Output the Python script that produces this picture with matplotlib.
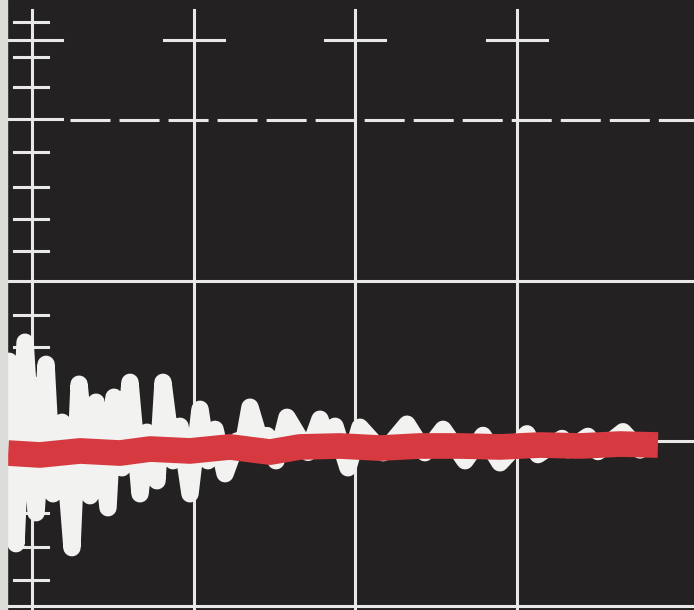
import matplotlib
matplotlib.use("Agg")
import matplotlib.pyplot as plt

# scope trace, units are screen divisions (x: time div, y: amplitude div)
wave_t = [-0.142, -0.099, -0.043, 0.025, 0.087, 0.130, 0.186, 0.247, 0.291, 0.359,
          0.396, 0.470, 0.507, 0.557, 0.606, 0.668, 0.711, 0.773, 0.810, 0.872,
          0.915, 0.977, 1.039, 1.088, 1.132, 1.194, 1.268, 1.305, 1.348, 1.422,
          1.453, 1.509, 1.577, 1.707, 1.781, 1.824, 1.874, 1.954, 2.028, 2.171,
          2.319, 2.430, 2.542, 2.678, 2.789, 2.894, 3.061, 3.129, 3.278, 3.315,
          3.438, 3.500, 3.655, 3.760]
wave_v = [0.497, -0.640, 0.616, -0.447, 0.478, -0.329, 0.117, -0.665, 0.354, -0.341,
          0.242, -0.416, 0.273, -0.167, 0.366, -0.329, 0.055, -0.248, 0.366, -0.123,
          0.092, -0.329, 0.198, -0.123, 0.073, -0.204, 0.000, -0.031, 0.211, -0.040,
          0.034, -0.123, 0.148, -0.071, 0.136, 0.010, 0.092, -0.167, 0.086, -0.073,
          0.105, -0.073, 0.073, -0.123, 0.035, -0.136, 0.045, -0.085, 0.016, -0.054,
          0.029, -0.066, 0.058, -0.056]

# filtered (red) trace
red_t = [-0.148, 0.049, 0.297, 0.544, 0.730, 0.977, 1.224, 1.472, 1.657, 1.905,
         2.152, 2.399, 2.647, 2.894, 3.142, 3.389, 3.636, 3.871]
red_v = [-0.075, -0.087, -0.062, -0.075, -0.050, -0.062, -0.037, -0.069, -0.037, -0.031,
         -0.044, -0.031, -0.031, -0.037, -0.025, -0.031, -0.019, -0.025]

# graticule
grid_x = [0, 1, 2, 3]
grid_y = [1.0, 0.0, -1.028]
dash_y = 2.0
cross_y = 2.498
minor_ticks = [2.611, 2.393, 2.206, 1.801, 1.583, 1.383, 1.184, 0.785, 0.586,
               0.393, 0.193, -0.212, -0.449, -0.660, -0.866]
major_ticks = [2.498, 2.006]

BG = '#232121'
LINE = '#e8e8e6'
plt.rcParams['lines.scale_dashes'] = False

fig = plt.figure(figsize=(6.94, 6.10), dpi=100)
fig.patch.set_facecolor(BG)
ax = fig.add_axes([0, 0, 1, 1])
ax.set_facecolor(BG)
ax.set_xlim(-0.198, 4.094)
ax.set_ylim(-1.053, 2.748)
ax.axis('off')

# light paper edge on the left
ax.axvspan(-0.198, -0.152, color='#dcdcd8', zorder=5)

lw = 2.2
for gx in grid_x:
    ax.plot([gx, gx], [-1.1, 2.685], color=LINE, lw=lw, zorder=1)
for gy in grid_y:
    ax.plot([-0.152, 4.2], [gy, gy], color=LINE, lw=lw, zorder=1)
ax.plot([0.235, 4.2], [dash_y, dash_y], color=LINE, lw=lw, zorder=1,
        linestyle=(0, (28.8, 6.5)), solid_capstyle='butt', dash_capstyle='butt')

for t in minor_ticks:
    ax.plot([-0.111, 0.099], [t, t], color=LINE, lw=lw, zorder=1)
for t in major_ticks:
    ax.plot([-0.152, 0.186], [t, t], color=LINE, lw=lw, zorder=1)
for gx in grid_x[1:]:
    ax.plot([gx - 0.186, gx + 0.186], [cross_y, cross_y], color=LINE, lw=lw, zorder=1)

ax.plot(wave_t, wave_v, color='#f2f2f0', lw=12.5, solid_joinstyle='round',
        solid_capstyle='round', zorder=3)
ax.plot(red_t, red_v, color='#d63a40', lw=18.5, solid_joinstyle='round',
        solid_capstyle='butt', zorder=4)

fig.savefig('out.png', dpi=100, facecolor=BG)
